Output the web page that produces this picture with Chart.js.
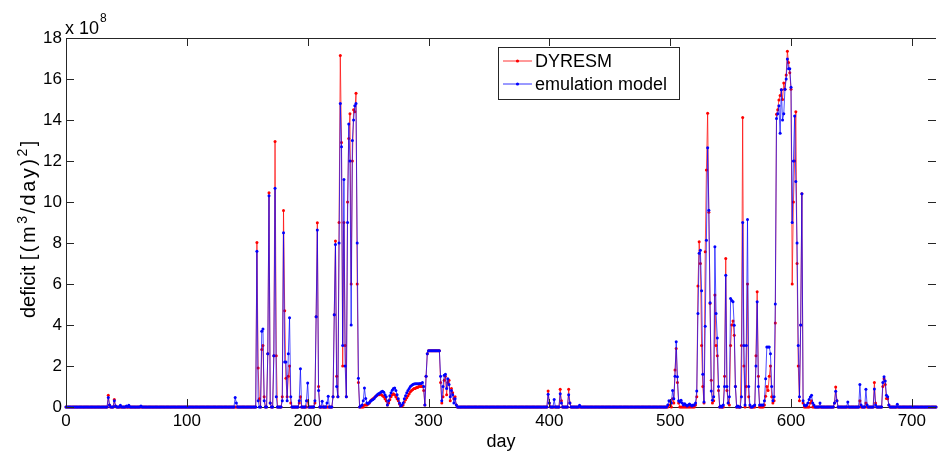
<!DOCTYPE html>
<html>
<head>
<meta charset="utf-8">
<title>Deficit: DYRESM vs emulation model</title>
<script src="https://cdn.jsdelivr.net/npm/chart.js@4.4.1/dist/chart.umd.min.js"></script>
<style>
  html, body { margin: 0; padding: 0; background: #fff; }
  canvas { display: block; }
</style>
</head>
<body>
<canvas id="deficitChart" width="940" height="457"></canvas>
<script>
// daily deficit, in units of 1e8 (m3/day)^2, day 0..720
const seriesNames = ['DYRESM', 'emulation model'];
const xTicks = [0, 100, 200, 300, 400, 500, 600, 700];
const yTicks = [0, 2, 4, 6, 8, 10, 12, 14, 16, 18];

const dyresm = [
  0,0,0,0,0,0,0,0,0,0,0,0,0,0,0,0,0,0,0,0,                          // 0
  0,0,0,0,0,0,0,0,0,0,0,0,0,0,0,0.57,0.1,0,0,0,                     // 20
  0.36,0.05,0,0,0,0,0,0,0,0,0,0,0,0,0,0,0,0,0,0,                    // 40
  0,0,0,0,0,0,0,0,0,0,0,0,0,0,0,0,0,0,0,0,                          // 60
  0,0,0,0,0,0,0,0,0,0,0,0,0,0,0,0,0,0,0,0,                          // 80
  0,0,0,0,0,0,0,0,0,0,0,0,0,0,0,0,0,0,0,0,                          // 100
  0,0,0,0,0,0,0,0,0,0,0,0,0,0,0,0,0,0,0,0,                          // 120
  0,0,0,0,0,0,0,0,0,0,0,0,0,0,0,0,0,0,8.03,1.9,                     // 140
  0.4,0,2.8,3.0,0.5,0,0,2.6,10.45,0.2,0,0,2.5,12.95,2.5,0,0,0,0,0.5, // 160
  9.59,4.7,1.4,0.5,1.5,2.0,0.2,0,0,0,0,0,0,0.2,0.5,0,0,0,0,0,       // 180
  0.3,0,0,0,0,0,0.2,4.4,8.99,1.0,0,0,0,0,0,0,0,0,0,0,               // 200
  0,0.5,4.5,8.1,1.5,0.5,9,17.15,12.9,2,9,3,0.5,10,13.1,14.3,6,12,14.5,14.4, // 220
  15.3,6,1.2,0,0,0,0,0.1,0.1,0.1,0.15,0.2,0.3,0.35,0.4,0.45,0.5,0.55,0.6,0.6, // 240
  0.65,0.6,0.55,0.5,0.4,0.3,0.1,0.2,0.35,0.5,0.6,0.65,0.6,0.5,0.4,0.3,0.15,0.05,0.05,0.1, // 260
  0.25,0.35,0.45,0.55,0.65,0.75,0.8,0.85,0.9,0.9,0.95,0.95,1.0,1.0,1.0,1.0,0.8,0.1,1.5,2.6, // 280
  2.74,2.74,2.74,2.74,2.74,2.74,2.74,2.74,2.74,2.74,1.2,0.2,0.5,1.3,1.5,0.6,1.2,1.3,0.3,0.9, // 300
  0.7,0.4,0.5,0.1,0,0,0,0,0,0,0,0,0,0,0,0,0,0,0,0,                  // 320
  0,0,0,0,0,0,0,0,0,0,0,0,0,0,0,0,0,0,0,0,                          // 340
  0,0,0,0,0,0,0,0,0,0,0,0,0,0,0,0,0,0,0,0,                          // 360
  0,0,0,0,0,0,0,0,0,0,0,0,0,0,0,0,0,0,0,0.78,                       // 380
  0.2,0,0,0,0,0,0,0,0,0.86,0.3,0,0,0,0,0,0.86,0.2,0,0,              // 400
  0,0,0,0,0,0,0,0,0,0,0,0,0,0,0,0,0,0,0,0,                          // 420
  0,0,0,0,0,0,0,0,0,0,0,0,0,0,0,0,0,0,0,0,                          // 440
  0,0,0,0,0,0,0,0,0,0,0,0,0,0,0,0,0,0,0,0,                          // 460
  0,0,0,0,0,0,0,0,0,0,0,0,0,0,0,0,0,0,0,0.1,                        // 480
  0.1,0,0.4,0.2,1.8,2.85,1.2,0.2,0,0,0,0,0,0,0,0,0,0,0,0,           // 500
  0,0.1,0.5,5.9,8.06,7.0,3.0,1.0,0.2,7.57,11.56,14.33,9.5,5.05,1.3,0.2,0.3,5.46,3.0,2.5, // 520
  0.8,0,0,0,0,1.5,7.25,0.81,0.2,0.1,3.0,4.0,4.2,3.5,1.0,0,0,0,0,3.0, // 540
  14.12,2.0,0,1.0,6.0,0.5,0,0,0,0,0,2.5,5.62,1.5,0,0,0,0,0.1,0.52,  // 560
  1.0,0.8,1.5,2.0,0.5,0.2,0.3,4.1,14.28,14.5,14.98,15.2,15.47,15.0,15.8,15.5,16.2,17.35,16.8,16.3, // 580
  15.5,6,10,12,14.4,7,2,0.3,4,10.4,0.2,0,0,0,0,0,0.2,0.3,0,0,       // 600
  0,0,0,0,0,0,0,0,0,0,0,0,0,0,0,0,0.2,0.98,0.3,0,                   // 620
  0,0,0,0,0,0,0,0,0,0,0,0,0,0,0,0,0,0.3,0,0,                        // 640
  0,0,0.2,0,0,0,0,0,0,1.19,0.2,0,0,0,0,0,1.0,1.38,1.1,0.41,         // 660
  0.4,0.1,0,0,0,0,0,0,0,0,0,0,0,0,0,0,0,0,0,0,                      // 680
  0,0,0,0,0,0,0,0,0,0,0,0,0,0,0,0,0,0,0,0,                          // 700
  0                                                                 // 720
];

const emulation = [
  0,0,0,0,0,0,0,0,0,0,0,0,0,0,0,0,0,0,0,0,                          // 0
  0,0,0,0,0,0,0,0,0,0,0,0,0,0,0,0.46,0.1,0,0,0,                     // 20
  0.3,0.05,0,0,0,0.08,0,0,0,0,0.05,0,0.08,0,0,0,0,0,0,0,            // 40
  0,0,0.05,0,0,0,0,0,0,0,0,0,0,0,0,0,0,0,0,0,                       // 60
  0,0,0,0,0,0,0,0,0,0,0,0,0,0,0,0,0,0,0,0,                          // 80
  0,0,0,0,0,0,0,0,0,0,0,0,0,0,0,0,0,0,0,0,                          // 100
  0,0,0,0,0,0,0,0,0,0,0,0,0,0,0,0,0,0,0,0,                          // 120
  0.46,0.2,0,0,0,0,0,0,0,0,0,0,0,0,0,0,0,0,7.6,0.3,                 // 140
  0,0,3.7,3.8,0.3,0,0,2.6,10.3,0.2,0,0,2.5,10.67,0.5,0,0,0,0,0.3,   // 160
  8.5,2.2,2.2,0.3,2.6,4.35,0.5,0,0,0,0,0,0,0.3,1.87,0,0,0,0,0.3,    // 180
  1.17,0,0,0,0,0,0.3,4.4,8.63,0.8,0,0,0.28,0,0,0,0.2,0.52,0,0,      // 200
  0,0.5,4.5,7.93,1.0,0.5,8,14.8,12.7,3,11.1,2,0.5,9,13.8,12,4,13,14.0,14.7, // 220
  14.8,8,1.4,0,0.05,0.1,0.3,0.93,0.41,0.2,0.16,0.22,0.28,0.33,0.36,0.42,0.5,0.56,0.62,0.66, // 240
  0.7,0.74,0.77,0.72,0.6,0.5,0.1,0.3,0.55,0.7,0.82,0.9,0.93,0.8,0.6,0.4,0.2,0.05,0.1,0.2, // 260
  0.4,0.55,0.7,0.8,0.9,1.0,1.05,1.1,1.12,1.13,1.13,1.13,1.14,1.15,1.15,1.2,1.0,0.1,1.5,2.6, // 280
  2.74,2.74,2.74,2.74,2.74,2.74,2.74,2.74,2.74,2.74,1.5,0.3,1.0,1.55,1.6,0.9,1.38,1.1,0.5,0.8, // 300
  0.6,0.2,0.4,0.1,0,0,0,0,0,0,0,0,0,0,0,0,0,0,0,0,                  // 320
  0,0,0,0,0,0,0,0,0,0,0,0,0,0,0,0,0,0,0,0,                          // 340
  0,0,0,0,0,0,0,0,0,0,0,0,0,0,0,0,0,0,0,0,                          // 360
  0,0,0,0,0,0,0,0,0,0,0,0,0,0,0,0,0,0,0,0.62,                       // 380
  0.2,0,0,0,0.37,0,0,0,0,0.65,0.2,0,0,0,0,0,0.6,0.2,0,0,            // 400
  0,0,0,0,0,0.08,0,0,0,0,0,0,0,0,0,0,0,0,0,0,                       // 420
  0,0,0,0,0,0,0,0,0,0,0,0,0,0,0,0,0,0,0,0,                          // 440
  0,0,0,0,0,0,0,0,0,0,0,0,0,0,0,0,0,0,0,0,                          // 460
  0,0,0,0,0,0,0,0,0,0,0,0,0,0,0,0,0,0,0.1,0.3,                      // 480
  0.28,0.2,0.81,0.4,1.5,3.18,1.47,0.3,0.24,0.33,0.2,0.1,0.16,0.1,0.05,0.1,0.15,0.1,0.05,0.1, // 500
  0.1,0.2,0.78,4.56,7.5,7.65,5.67,1.6,0.24,3.94,8.14,12.65,9.6,5.08,0.78,0.33,0.5,7.82,4.56,3.37, // 520
  1.0,0,0.05,0,0.1,1.0,6.43,1.0,0.2,0.5,5.29,5.2,5.13,3.99,1.0,0,0.05,0,0,0.5, // 540
  9.0,3.0,0.1,3.0,9.15,1.0,0.1,0,0,0.05,0.1,2.0,5.13,1.0,0.1,0.1,0.1,0.1,0.3,1.38, // 560
  2.93,2.93,2.93,2.6,1.0,0.3,0.5,5.02,14.07,14.3,14.69,13.35,15.47,14.0,14.3,15.5,16.0,16.97,16.5,16.5, // 580
  15.6,9,12,14.2,11,8,3,0.5,4,10.4,0.3,0.1,0.05,0.1,0.2,0.36,0.49,0.57,0.2,0.1, // 600
  0,0,0,0,0.2,0,0,0,0,0,0,0,0,0,0,0,0.2,0.77,0.3,0,                 // 620
  0,0,0,0,0,0,0,0.24,0,0,0,0,0,0,0,0,0,1.1,0.1,0,                   // 640
  0,0,0.86,0.1,0,0,0,0,0,0.88,0.1,0,0,0,0,0,1.2,1.47,1.27,0.57,     // 660
  0.5,0.1,0,0,0,0,0,0,0.13,0,0,0,0,0,0,0,0,0,0,0,                   // 680
  0,0,0,0,0,0,0,0,0,0,0,0,0,0,0,0,0,0,0,0,                          // 700
  0                                                                 // 720
];

const FONT = '"Liberation Sans", Arial, Helvetica, sans-serif';
const RED = 'rgb(255, 0, 0)';
const BLUE = 'rgb(0, 0, 255)';

function toPoints(values) {
    return values.map((v, day) => ({ x: day, y: v }));
}

// y label with real superscripts, written bottom-to-top (TeX-like loose spacing in the unit part)
const yTitleParts = [
    { text: 'deficit ', size: 20, rise: 0, spread: false },
    { text: '[(m', size: 20, rise: 0, spread: true },
    { text: '3', size: 14, rise: 8, spread: true },
    { text: '/day)', size: 20, rise: 0, spread: true },
    { text: '2', size: 14, rise: 8, spread: true },
    { text: ']', size: 20, rise: 0, spread: true }
];
const yTitleGap = 2.5;

// MATLAB-style box: inward ticks, top line, exponent label, legend, y label
const matlabAxes = {
    id: 'matlabAxes',
    afterDraw(chart) {
        const { ctx, chartArea: a, scales: { x, y } } = chart;
        ctx.save();
        ctx.strokeStyle = '#262626';
        ctx.lineWidth = 1;
        ctx.beginPath();
        ctx.moveTo(a.left, a.top + 0.5);
        ctx.lineTo(a.right, a.top + 0.5);
        xTicks.forEach(v => {
            const px = Math.round(x.getPixelForValue(v)) + 0.5;
            ctx.moveTo(px, a.bottom);
            ctx.lineTo(px, a.bottom - 8);
            ctx.moveTo(px, a.top);
            ctx.lineTo(px, a.top + 8);
        });
        yTicks.forEach(v => {
            const py = Math.round(y.getPixelForValue(v)) + 0.5;
            ctx.moveTo(a.left, py);
            ctx.lineTo(a.left + 8, py);
            ctx.moveTo(a.right, py);
            ctx.lineTo(a.right - 8, py);
        });
        ctx.stroke();

        // exponent label
        ctx.fillStyle = '#000';
        ctx.textBaseline = 'alphabetic';
        ctx.textAlign = 'left';
        ctx.font = '18px ' + FONT;
        ctx.fillText('x 10', a.left - 1, 34);
        ctx.font = '12px ' + FONT;
        ctx.fillText('8', a.left + 34, 22);

        // y axis label, bottom end at y = 318
        ctx.save();
        ctx.translate(35, 318);
        ctx.rotate(-Math.PI / 2);
        let pos = 0;
        yTitleParts.forEach(p => {
            ctx.font = p.size + 'px ' + FONT;
            const chars = p.spread ? p.text.split('') : [p.text];
            chars.forEach(c => {
                ctx.fillText(c, pos, -p.rise);
                pos += ctx.measureText(c).width + (p.spread ? yTitleGap : 0);
            });
        });
        ctx.restore();

        // legend
        const box = { left: 498.5, top: 47.5, right: 679.5, bottom: 99.5 };
        ctx.fillStyle = '#fff';
        ctx.fillRect(box.left, box.top, box.right - box.left, box.bottom - box.top);
        ctx.strokeStyle = '#262626';
        ctx.strokeRect(box.left, box.top, box.right - box.left, box.bottom - box.top);
        const rows = [61, 84];
        const colors = [RED, BLUE];
        ctx.font = '18px ' + FONT;
        ctx.textBaseline = 'middle';
        seriesNames.forEach((name, i) => {
            ctx.strokeStyle = colors[i];
            ctx.lineWidth = 0.8;
            ctx.beginPath();
            ctx.moveTo(503, rows[i]);
            ctx.lineTo(532, rows[i]);
            ctx.stroke();
            ctx.fillStyle = colors[i];
            ctx.beginPath();
            ctx.arc(517.5, rows[i], 1.6, 0, Math.PI * 2);
            ctx.fill();
            ctx.fillStyle = '#000';
            ctx.fillText(name, 535, rows[i] + 1);
        });
        ctx.restore();
    }
};

new Chart(document.getElementById('deficitChart').getContext('2d'), {
    type: 'line',
    data: {
        datasets: [{
            label: seriesNames[0],
            data: toPoints(dyresm),
            borderColor: RED,
            backgroundColor: RED,
            borderWidth: 0.7,
            pointRadius: 1.5,
            pointBorderWidth: 0,
            pointBackgroundColor: RED,
            tension: 0,
            fill: false,
            clip: false,
            order: 2
        }, {
            label: seriesNames[1],
            data: toPoints(emulation),
            borderColor: BLUE,
            backgroundColor: BLUE,
            borderWidth: 0.7,
            pointRadius: 1.5,
            pointBorderWidth: 0,
            pointBackgroundColor: BLUE,
            tension: 0,
            fill: false,
            clip: false,
            order: 1
        }]
    },
    options: {
        responsive: false,
        animation: false,
        events: [],
        layout: { padding: { top: 38, right: 0, left: 0, bottom: 0 } },
        plugins: {
            legend: { display: false },
            tooltip: { enabled: false }
        },
        scales: {
            x: {
                type: 'linear',
                min: 0,
                max: 720,
                afterFit: scale => { scale.height = 50; },
                afterBuildTicks: scale => { scale.ticks = xTicks.map(v => ({ value: v })); },
                grid: { display: false, drawTicks: false },
                border: { display: true, color: '#262626', width: 1 },
                ticks: {
                    color: '#000',
                    padding: 4,
                    maxRotation: 0,
                    font: { family: FONT, size: 17 }
                },
                title: {
                    display: true,
                    text: 'day',
                    color: '#000',
                    font: { family: FONT, size: 18 },
                    padding: { top: 0, bottom: 4 }
                }
            },
            y: {
                min: 0,
                max: 18,
                afterFit: scale => { scale.width = 66; },
                afterBuildTicks: scale => { scale.ticks = yTicks.map(v => ({ value: v })); },
                grid: { display: false, drawTicks: false },
                border: { display: true, color: '#262626', width: 1 },
                ticks: {
                    color: '#000',
                    padding: 4,
                    font: { family: FONT, size: 17 }
                }
            }
        }
    },
    plugins: [matlabAxes]
});
</script>
</body>
</html>
